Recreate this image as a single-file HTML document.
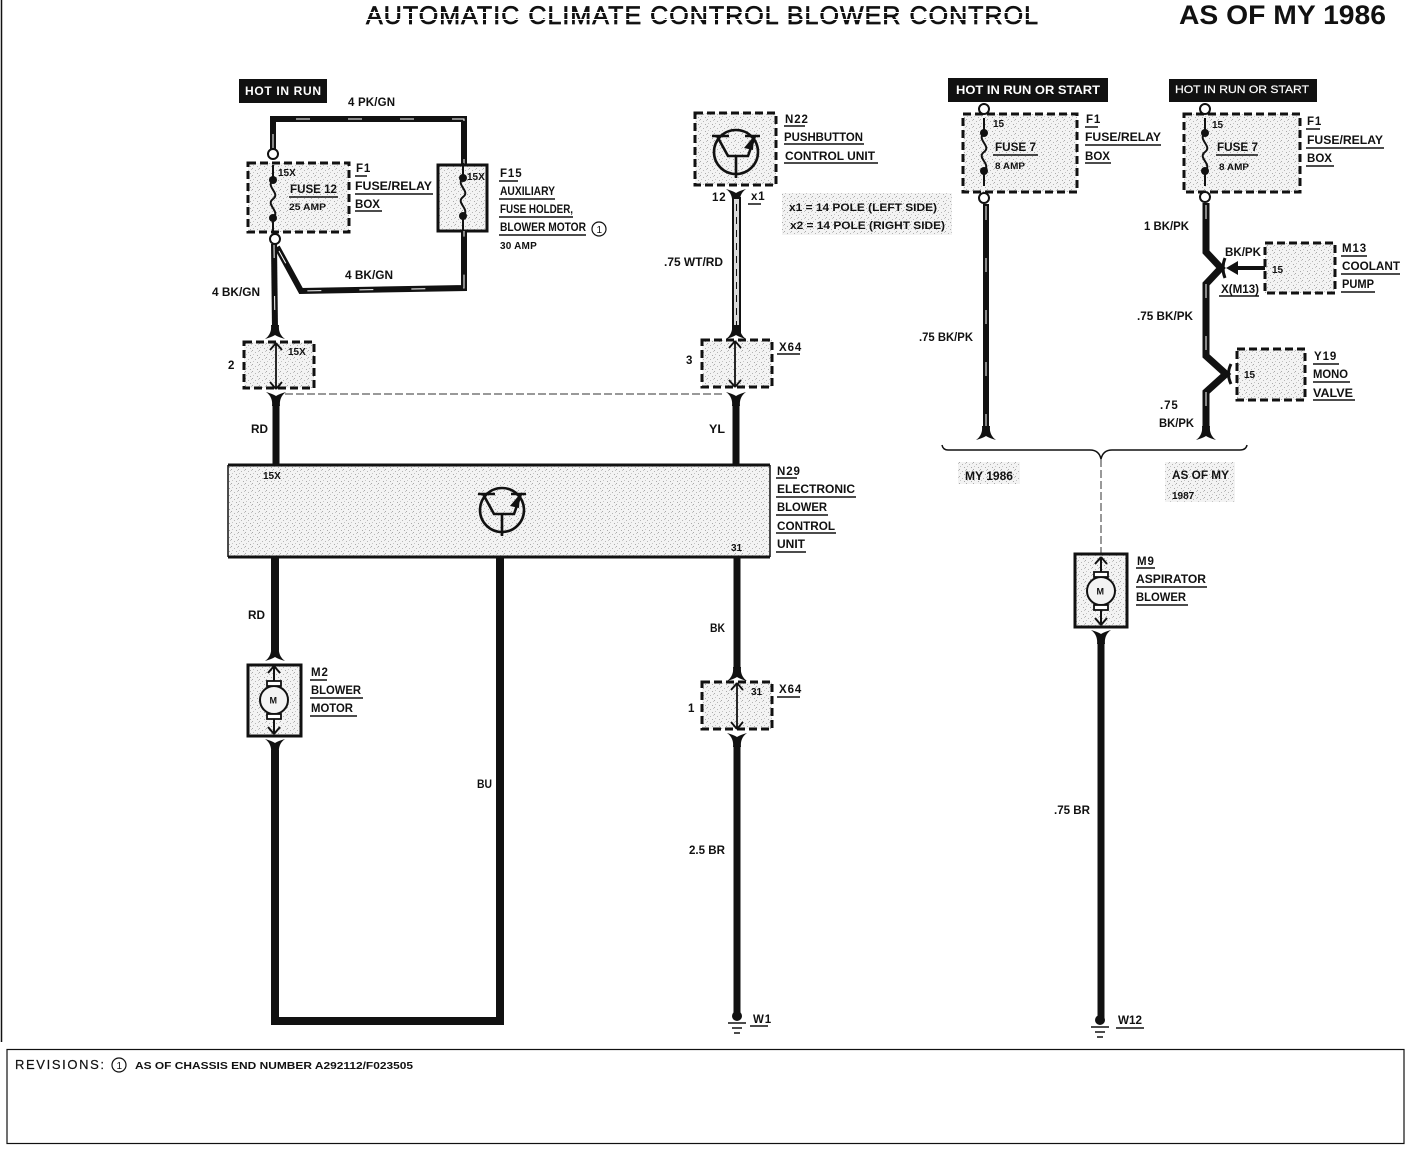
<!DOCTYPE html>
<html><head><meta charset="utf-8"><style>
html,body{margin:0;padding:0;background:#fff}
svg{display:block}
text{font-family:"Liberation Sans",sans-serif;font-weight:700;font-size:11.5px;fill:#111;letter-spacing:.9px}
.u{stroke:#111;stroke-width:1.5;fill:none}
.d{fill:url(#st);stroke:#111;stroke-width:3;stroke-dasharray:8 4}
.s{fill:url(#st);stroke:#111;stroke-width:3}
.w{fill:none;stroke:#111;stroke-linejoin:miter}
.h{fill:none;stroke:#fff;stroke-width:1;stroke-dasharray:14 38}
.t{fill:none;stroke:#111;stroke-width:1.5}
.c{fill:#fff;stroke:#111;stroke-width:2}
</style></head><body>
<svg width="1408" height="1152" viewBox="0 0 1408 1152" xmlns="http://www.w3.org/2000/svg">
<defs>
<pattern id="st" width="7" height="7" patternUnits="userSpaceOnUse"><rect width="7" height="7" fill="#f3f3f3"/><rect x="0" y="0" width="1" height="1" fill="#aaa"/><rect x="3" y="2" width="1" height="1" fill="#b5b5b5"/><rect x="5" y="5" width="1" height="1" fill="#aaa"/><rect x="1" y="4" width="1" height="1" fill="#c5c5c5"/><rect x="6" y="1" width="1" height="1" fill="#c5c5c5"/></pattern>
<g id="fuse"><path d="M0 -34V-19C-8 -12 8 -6 0 0C-8 6 8 12 0 19V34" fill="none" stroke="#111" stroke-width="2"/><circle cy="-19" r="4" fill="#111"/><circle cy="19" r="4" fill="#111"/></g>
<g id="forkd"><path d="M-10 6Q-3 1 -4 -8H4Q3 1 10 6Q3 4 0 2Q-3 4 -10 6Z" fill="#111"/></g>
<g id="forku"><path d="M-10 -6Q-3 -1 -4 8H4Q3 -1 10 -6Q3 -4 0 -2Q-3 -4 -10 -6Z" fill="#111"/></g>
<g id="gnd"><circle r="5" fill="#111"/><path d="M-9 7H9M-5 12H5M-3 17H3" fill="none" stroke="#111" stroke-width="1.600"/></g>
<g id="arrows"><path d="M0 0L-6 7M0 0L6 7M0 46L-6 39M0 46L6 39M0 0V46" fill="none" stroke="#111" stroke-width="1.800"/></g>
<g id="motor"><circle r="14" fill="#f3f3f3" stroke="#111" stroke-width="2"/><rect x="-7" y="-19" width="14" height="5" fill="#fff" stroke="#111" stroke-width="1.800"/><rect x="-7" y="14" width="14" height="5" fill="#fff" stroke="#111" stroke-width="1.800"/><path d="M0 -34V-19M0 19V34M0 -34L-6 -27M0 -34L6 -27M0 34L-6 27M0 34L6 27" fill="none" stroke="#111" stroke-width="2"/><text x="-4.500" y="3.500" style="font-size:9px;letter-spacing:0">M</text></g>
<g id="tr"><circle r="22" fill="none" stroke="#111" stroke-width="2.600"/><path d="M-24 -16H-7M-19 -16L-8 4H12L19 -16M9 -16H24M0 4V26" fill="none" stroke="#111" stroke-width="2.600"/><path d="M18 -16L8 -4L17 -2Z" fill="#111"/></g>
</defs>

<rect width="1408" height="1152" fill="#fff"/>
<path d="M1.500 0V1042" stroke="#111" stroke-width="1.500"/>
<rect x="7" y="1049.500" width="1397" height="94" fill="#fff" stroke="#111" stroke-width="1.200"/>

<text x="366" y="24" textLength="672" style="font-size:25px;letter-spacing:0;font-weight:400;stroke:#111;stroke-width:.7">AUTOMATIC CLIMATE CONTROL BLOWER CONTROL</text>
<text x="1179" y="24" textLength="207" lengthAdjust="spacingAndGlyphs" style="font-size:27px;letter-spacing:0">AS OF MY 1986</text>
<rect x="360" y="0" width="1040" height="5" fill="#fff"/>
<rect x="360" y="19" width="690" height="1" fill="#fff"/>
<rect x="360" y="12" width="690" height="1" fill="#fff"/>

<!-- left fuse block -->
<rect x="239" y="79" width="88" height="24" fill="#111"/>
<text x="245" y="95" textLength="76" style="fill:#fff;font-size:12px;letter-spacing:0">HOT IN RUN</text>
<text x="348" y="106" textLength="48">4 PK/GN</text>
<path class="w" stroke-width="6" d="M273 149V119H464V167"/>
<path class="h" d="M273 148V119H464V167"/>
<circle class="c" cx="273" cy="154" r="5"/>
<rect class="d" x="248" y="163" width="101" height="69"/>
<use href="#fuse" x="273" y="199"/>
<text x="278" y="176" style="font-size:10px;letter-spacing:0">15X</text>
<text x="290" y="193" textLength="47" lengthAdjust="spacingAndGlyphs" style="font-size:12px;letter-spacing:0">FUSE 12</text>
<path class="u" d="M289 197H338"/>
<text x="289" y="210" textLength="37" lengthAdjust="spacingAndGlyphs" style="font-size:9.500px;letter-spacing:0">25 AMP</text>
<text x="356" y="172">F1</text><path class="u" d="M355 176H367"/>
<text x="355" y="190" textLength="77" lengthAdjust="spacingAndGlyphs" style="letter-spacing:0">FUSE/RELAY</text><path class="u" d="M355 194H433"/>
<text x="355" y="208" textLength="25" lengthAdjust="spacingAndGlyphs" style="letter-spacing:0">BOX</text><path class="u" d="M355 211H382"/>

<rect class="s" x="438" y="165" width="49" height="66"/>
<use href="#fuse" x="463" y="197"/>
<text x="467" y="180" style="font-size:10px;letter-spacing:0">15X</text>
<text x="500" y="177">F15</text><path class="u" d="M499 181H518"/>
<text x="500" y="195" textLength="55" lengthAdjust="spacingAndGlyphs" style="letter-spacing:0">AUXILIARY</text><path class="u" d="M499 199H555"/>
<text x="500" y="213" textLength="73" lengthAdjust="spacingAndGlyphs" style="letter-spacing:0">FUSE HOLDER,</text><path class="u" d="M499 217H573"/>
<text x="500" y="231" textLength="86" lengthAdjust="spacingAndGlyphs" style="letter-spacing:0">BLOWER MOTOR</text><path class="u" d="M499 235H586"/>
<circle cx="599" cy="229" r="7" fill="none" stroke="#111" stroke-width="1.200"/>
<text x="596.500" y="233" style="font-size:10px;letter-spacing:0;font-weight:400">1</text>
<text x="500" y="249" style="font-size:10px;letter-spacing:.2px">30 AMP</text>

<path class="w" stroke-width="6" d="M274 244L275 330"/>
<path class="h" d="M274 244L275 330"/>
<path class="w" stroke-width="6" d="M277 247L301 291L464 288V231"/>
<path class="h" d="M279 251L301 291L464 288V231"/>
<circle class="c" cx="275" cy="239" r="5"/>
<text x="345" y="279" textLength="48" lengthAdjust="spacingAndGlyphs" style="letter-spacing:0">4 BK/GN</text>
<text x="212" y="296" textLength="48" lengthAdjust="spacingAndGlyphs" style="letter-spacing:0">4 BK/GN</text>
<use href="#forkd" x="275" y="333"/>
<rect class="d" x="244" y="342" width="70" height="46"/>
<use href="#arrows" x="276" y="343"/>
<text x="288" y="355" style="font-size:10px;letter-spacing:0">15X</text>
<text x="228" y="369">2</text>
<use href="#forku" x="276" y="398"/>
<path d="M285 394H725" stroke="#333" stroke-width="1" stroke-dasharray="8 3" fill="none"/>
<path class="w" stroke-width="7" d="M276 403V465"/>
<text x="251" y="433" textLength="17" lengthAdjust="spacingAndGlyphs" style="letter-spacing:0">RD</text>

<!-- N22 -->
<rect class="d" x="695" y="113" width="81" height="72"/>
<use href="#tr" x="736" y="152"/>
<text x="785" y="123">N22</text><path class="u" d="M784 126H805"/>
<text x="784" y="141" textLength="79" lengthAdjust="spacingAndGlyphs" style="letter-spacing:0">PUSHBUTTON</text><path class="u" d="M784 144H864"/>
<text x="785" y="160" textLength="90" lengthAdjust="spacingAndGlyphs" style="letter-spacing:0">CONTROL UNIT</text><path class="u" d="M784 163H878"/>
<text x="712" y="201">12</text>
<use href="#forkd" x="736" y="195" transform="rotate(180 736 195)"/>
<text x="751" y="200">x1</text><path class="u" d="M748 204H761"/>
<rect x="782" y="193" width="170" height="42" fill="url(#st)"/>
<text x="789" y="211" textLength="148" lengthAdjust="spacingAndGlyphs" style="font-size:11px;letter-spacing:0">x1 = 14 POLE (LEFT SIDE)</text>
<text x="790" y="229" textLength="155" lengthAdjust="spacingAndGlyphs" style="font-size:11px;letter-spacing:0">x2 = 14 POLE (RIGHT SIDE)</text>
<path d="M733 198H740V332H733Z" fill="#d9d9d9" stroke="#111" stroke-width="2"/>
<path d="M736.500 204V330" stroke="#111" stroke-width="1" stroke-dasharray="7 6" fill="none"/>
<text x="664" y="266" textLength="59" lengthAdjust="spacingAndGlyphs" style="letter-spacing:0">.75 WT/RD</text>
<use href="#forkd" x="736" y="333"/>
<rect class="d" x="702" y="340" width="70" height="47"/>
<use href="#arrows" x="735" y="341"/>
<text x="779" y="351">X64</text><path class="u" d="M777 354H800"/>
<text x="686" y="364">3</text>
<use href="#forku" x="736" y="398"/>
<path class="w" stroke-width="7" d="M736 403V465"/>
<text x="709" y="433" textLength="16" lengthAdjust="spacingAndGlyphs" style="letter-spacing:0">YL</text>

<!-- N29 -->
<rect x="228" y="465" width="542" height="92" fill="url(#st)"/>
<path d="M228 465H770M228 557H770" stroke="#111" stroke-width="3" fill="none"/>
<path d="M228 465V557M770 465V557" stroke="#111" stroke-width="1.500" fill="none"/>
<text x="263" y="479" style="font-size:10px;letter-spacing:0">15X</text>
<text x="731" y="551" style="font-size:10px;letter-spacing:0">31</text>
<use href="#tr" x="502" y="510"/>
<text x="777" y="475">N29</text><path class="u" d="M776 478H797"/>
<text x="777" y="493" textLength="78" lengthAdjust="spacingAndGlyphs" style="letter-spacing:0">ELECTRONIC</text><path class="u" d="M776 497H856"/>
<text x="777" y="511" textLength="50" lengthAdjust="spacingAndGlyphs" style="letter-spacing:0">BLOWER</text><path class="u" d="M776 515H828"/>
<text x="777" y="530" textLength="58" lengthAdjust="spacingAndGlyphs" style="letter-spacing:0">CONTROL</text><path class="u" d="M776 533H836"/>
<text x="777" y="548" textLength="28" lengthAdjust="spacingAndGlyphs" style="letter-spacing:0">UNIT</text><path class="u" d="M776 552H806"/>

<!-- bottom wires -->
<path class="w" stroke-width="8" d="M275 557V650"/>
<text x="248" y="619" textLength="17" lengthAdjust="spacingAndGlyphs" style="letter-spacing:0">RD</text>
<use href="#forkd" x="275" y="655"/>
<rect class="s" x="248" y="665" width="53" height="71"/>
<use href="#motor" x="274" y="700"/>
<text x="311" y="676">M2</text><path class="u" d="M310 680H327"/>
<text x="311" y="694" textLength="50" lengthAdjust="spacingAndGlyphs" style="letter-spacing:0">BLOWER</text><path class="u" d="M310 698H363"/>
<text x="311" y="712" textLength="42" lengthAdjust="spacingAndGlyphs" style="letter-spacing:0">MOTOR</text><path class="u" d="M310 716H357"/>
<use href="#forku" x="275" y="745"/>
<path class="w" stroke-width="8" d="M275 750V1021H500V557"/>
<text x="477" y="788" textLength="15" lengthAdjust="spacingAndGlyphs" style="letter-spacing:0">BU</text>

<path class="w" stroke-width="7" d="M737 557V670"/>
<text x="710" y="632" textLength="15" lengthAdjust="spacingAndGlyphs" style="letter-spacing:0">BK</text>
<use href="#forkd" x="737" y="675"/>
<rect class="d" x="702" y="682" width="70" height="47"/>
<use href="#arrows" x="737" y="683"/>
<text x="751" y="695" style="font-size:10px;letter-spacing:0">31</text>
<text x="779" y="693">X64</text><path class="u" d="M777 697H800"/>
<text x="688" y="712">1</text>
<use href="#forku" x="737" y="739"/>
<path class="w" stroke-width="7" d="M737 744V1017"/>
<text x="689" y="854" textLength="36" lengthAdjust="spacingAndGlyphs" style="letter-spacing:0">2.5 BR</text>
<use href="#gnd" x="737" y="1016"/>
<text x="753" y="1023">W1</text><path class="u" d="M750 1026H768"/>

<!-- right block 1 -->
<rect x="948" y="78" width="160" height="24" fill="#111"/>
<text x="956" y="94" textLength="144" lengthAdjust="spacingAndGlyphs" style="fill:#fff;font-size:12px;letter-spacing:0">HOT IN RUN OR START</text>
<rect class="d" x="963" y="114" width="114" height="78"/>
<use href="#fuse" x="984" y="152"/>
<circle class="c" cx="984" cy="109" r="5"/>
<text x="993" y="127" style="font-size:10px;letter-spacing:0">15</text>
<text x="995" y="151" textLength="41" lengthAdjust="spacingAndGlyphs" style="font-size:12px;letter-spacing:0">FUSE 7</text>
<path class="u" d="M993 155H1038"/>
<text x="995" y="169" textLength="30" lengthAdjust="spacingAndGlyphs" style="font-size:9.500px;letter-spacing:0">8 AMP</text>
<text x="1086" y="123">F1</text><path class="u" d="M1085 127H1098"/>
<text x="1085" y="141" textLength="76" lengthAdjust="spacingAndGlyphs" style="letter-spacing:0">FUSE/RELAY</text><path class="u" d="M1085 145H1161"/>
<text x="1085" y="160" textLength="25" lengthAdjust="spacingAndGlyphs" style="letter-spacing:0">BOX</text><path class="u" d="M1085 163H1111"/>
<circle class="c" cx="984" cy="198" r="5"/>
<path class="w" stroke-width="6" d="M986 204V431"/>
<path class="h" d="M986 206V431"/>
<use href="#forkd" x="986" y="434"/>
<text x="919" y="341" textLength="54" lengthAdjust="spacingAndGlyphs" style="letter-spacing:0">.75 BK/PK</text>

<!-- right block 2 -->
<rect x="1169" y="79" width="148" height="23" fill="#111"/>
<text x="1175" y="93" textLength="134" lengthAdjust="spacingAndGlyphs" style="fill:#fff;font-size:11px;letter-spacing:0;font-weight:400;stroke:#fff;stroke-width:.2">HOT IN RUN OR START</text>
<rect class="d" x="1184" y="114" width="116" height="78"/>
<use href="#fuse" x="1205" y="152"/>
<circle class="c" cx="1205" cy="109" r="5"/>
<text x="1212" y="128" style="font-size:10px;letter-spacing:0">15</text>
<text x="1217" y="151" textLength="41" lengthAdjust="spacingAndGlyphs" style="font-size:12px;letter-spacing:0">FUSE 7</text>
<path class="u" d="M1216 155H1258"/>
<text x="1219" y="170" textLength="30" lengthAdjust="spacingAndGlyphs" style="font-size:9.500px;letter-spacing:0">8 AMP</text>
<text x="1307" y="125">F1</text><path class="u" d="M1306 129H1320"/>
<text x="1307" y="144" textLength="76" lengthAdjust="spacingAndGlyphs" style="letter-spacing:0">FUSE/RELAY</text><path class="u" d="M1306 148H1384"/>
<text x="1307" y="162" textLength="25" lengthAdjust="spacingAndGlyphs" style="letter-spacing:0">BOX</text><path class="u" d="M1306 166H1334"/>
<path class="w" stroke-width="7" d="M1206 203V252L1221 268L1206 284V356L1226 374L1206 392V431"/>
<path class="h" d="M1206 205V252M1206 284V356M1206 392V431"/>
<circle class="c" cx="1205" cy="197" r="5"/>
<use href="#forkd" x="1206" y="434"/>
<text x="1144" y="230" textLength="45" lengthAdjust="spacingAndGlyphs" style="letter-spacing:0">1 BK/PK</text>
<text x="1225" y="256" textLength="36" lengthAdjust="spacingAndGlyphs" style="letter-spacing:0">BK/PK</text>
<path class="w" stroke-width="4" d="M1265 268H1234"/>
<path d="M1226 268L1238 261V275Z" fill="#111"/>
<path d="M1225 258Q1221 268 1225 278" fill="none" stroke="#111" stroke-width="3"/>
<rect class="d" x="1265" y="243" width="70" height="50"/>
<text x="1272" y="273" style="font-size:10px;letter-spacing:0">15</text>
<text x="1221" y="293" textLength="38" lengthAdjust="spacingAndGlyphs" style="letter-spacing:0">X(M13)</text><path class="u" d="M1219 296H1259"/>
<text x="1342" y="252">M13</text><path class="u" d="M1341 256H1367"/>
<text x="1342" y="270" textLength="58" lengthAdjust="spacingAndGlyphs" style="letter-spacing:0">COOLANT</text><path class="u" d="M1341 274H1400"/>
<text x="1342" y="288" textLength="32" lengthAdjust="spacingAndGlyphs" style="letter-spacing:0">PUMP</text><path class="u" d="M1341 292H1375"/>
<text x="1137" y="320" textLength="56" lengthAdjust="spacingAndGlyphs" style="letter-spacing:0">.75 BK/PK</text>
<rect class="d" x="1237" y="349" width="68" height="51"/>
<text x="1244" y="378" style="font-size:10px;letter-spacing:0">15</text>
<path d="M1231 364Q1226 374 1231 384" fill="none" stroke="#111" stroke-width="3"/>
<text x="1314" y="360">Y19</text><path class="u" d="M1313 364H1339"/>
<text x="1313" y="378" textLength="35" lengthAdjust="spacingAndGlyphs" style="letter-spacing:0">MONO</text><path class="u" d="M1313 382H1350"/>
<text x="1313" y="397" textLength="40" lengthAdjust="spacingAndGlyphs" style="letter-spacing:0">VALVE</text><path class="u" d="M1313 400H1355"/>
<text x="1160" y="409">.75</text>
<text x="1159" y="427" textLength="35" lengthAdjust="spacingAndGlyphs" style="letter-spacing:0">BK/PK</text>

<!-- brace -->
<path class="t" d="M942 445Q943 450 948 450H1090Q1099 450 1101 459Q1103 450 1112 450H1240Q1246 450 1247 445"/>
<path d="M1101 459V553" stroke="#333" stroke-width="1" stroke-dasharray="8 3" fill="none"/>
<rect x="958" y="462" width="62" height="22" fill="url(#st)"/>
<text x="965" y="480" textLength="48" lengthAdjust="spacingAndGlyphs" style="letter-spacing:0">MY 1986</text>
<rect x="1165" y="462" width="70" height="40" fill="url(#st)"/>
<text x="1172" y="479" textLength="57" lengthAdjust="spacingAndGlyphs" style="letter-spacing:0">AS OF MY</text>
<text x="1172" y="499" style="font-size:10px;letter-spacing:0">1987</text>

<rect class="s" x="1075" y="554" width="52" height="73"/>
<use href="#motor" x="1101" y="591"/>
<text x="1137" y="565">M9</text><path class="u" d="M1136 568H1155"/>
<text x="1136" y="583" textLength="70" lengthAdjust="spacingAndGlyphs" style="letter-spacing:0">ASPIRATOR</text><path class="u" d="M1136 587H1207"/>
<text x="1136" y="601" textLength="50" lengthAdjust="spacingAndGlyphs" style="letter-spacing:0">BLOWER</text><path class="u" d="M1136 605H1188"/>
<use href="#forku" x="1101" y="636"/>
<path class="w" stroke-width="7" d="M1101 640V1020"/>
<text x="1054" y="814" textLength="36" lengthAdjust="spacingAndGlyphs" style="letter-spacing:0">.75 BR</text>
<use href="#gnd" x="1100" y="1020"/>
<text x="1118" y="1024" textLength="24" lengthAdjust="spacingAndGlyphs" style="letter-spacing:0">W12</text><path class="u" d="M1116 1028H1144"/>

<!-- revisions -->
<text x="15" y="1069" textLength="89" style="font-size:13px;letter-spacing:0;font-weight:400;stroke:#111;stroke-width:.2">REVISIONS:</text>
<circle cx="119" cy="1065" r="7" fill="none" stroke="#111" stroke-width="1.200"/>
<text x="116.500" y="1069" style="font-size:10px;letter-spacing:0;font-weight:400">1</text>
<text x="135" y="1069" textLength="278" lengthAdjust="spacingAndGlyphs" style="font-size:10.500px;letter-spacing:0">AS OF CHASSIS END NUMBER A292112/F023505</text>
</svg>
</body></html>
